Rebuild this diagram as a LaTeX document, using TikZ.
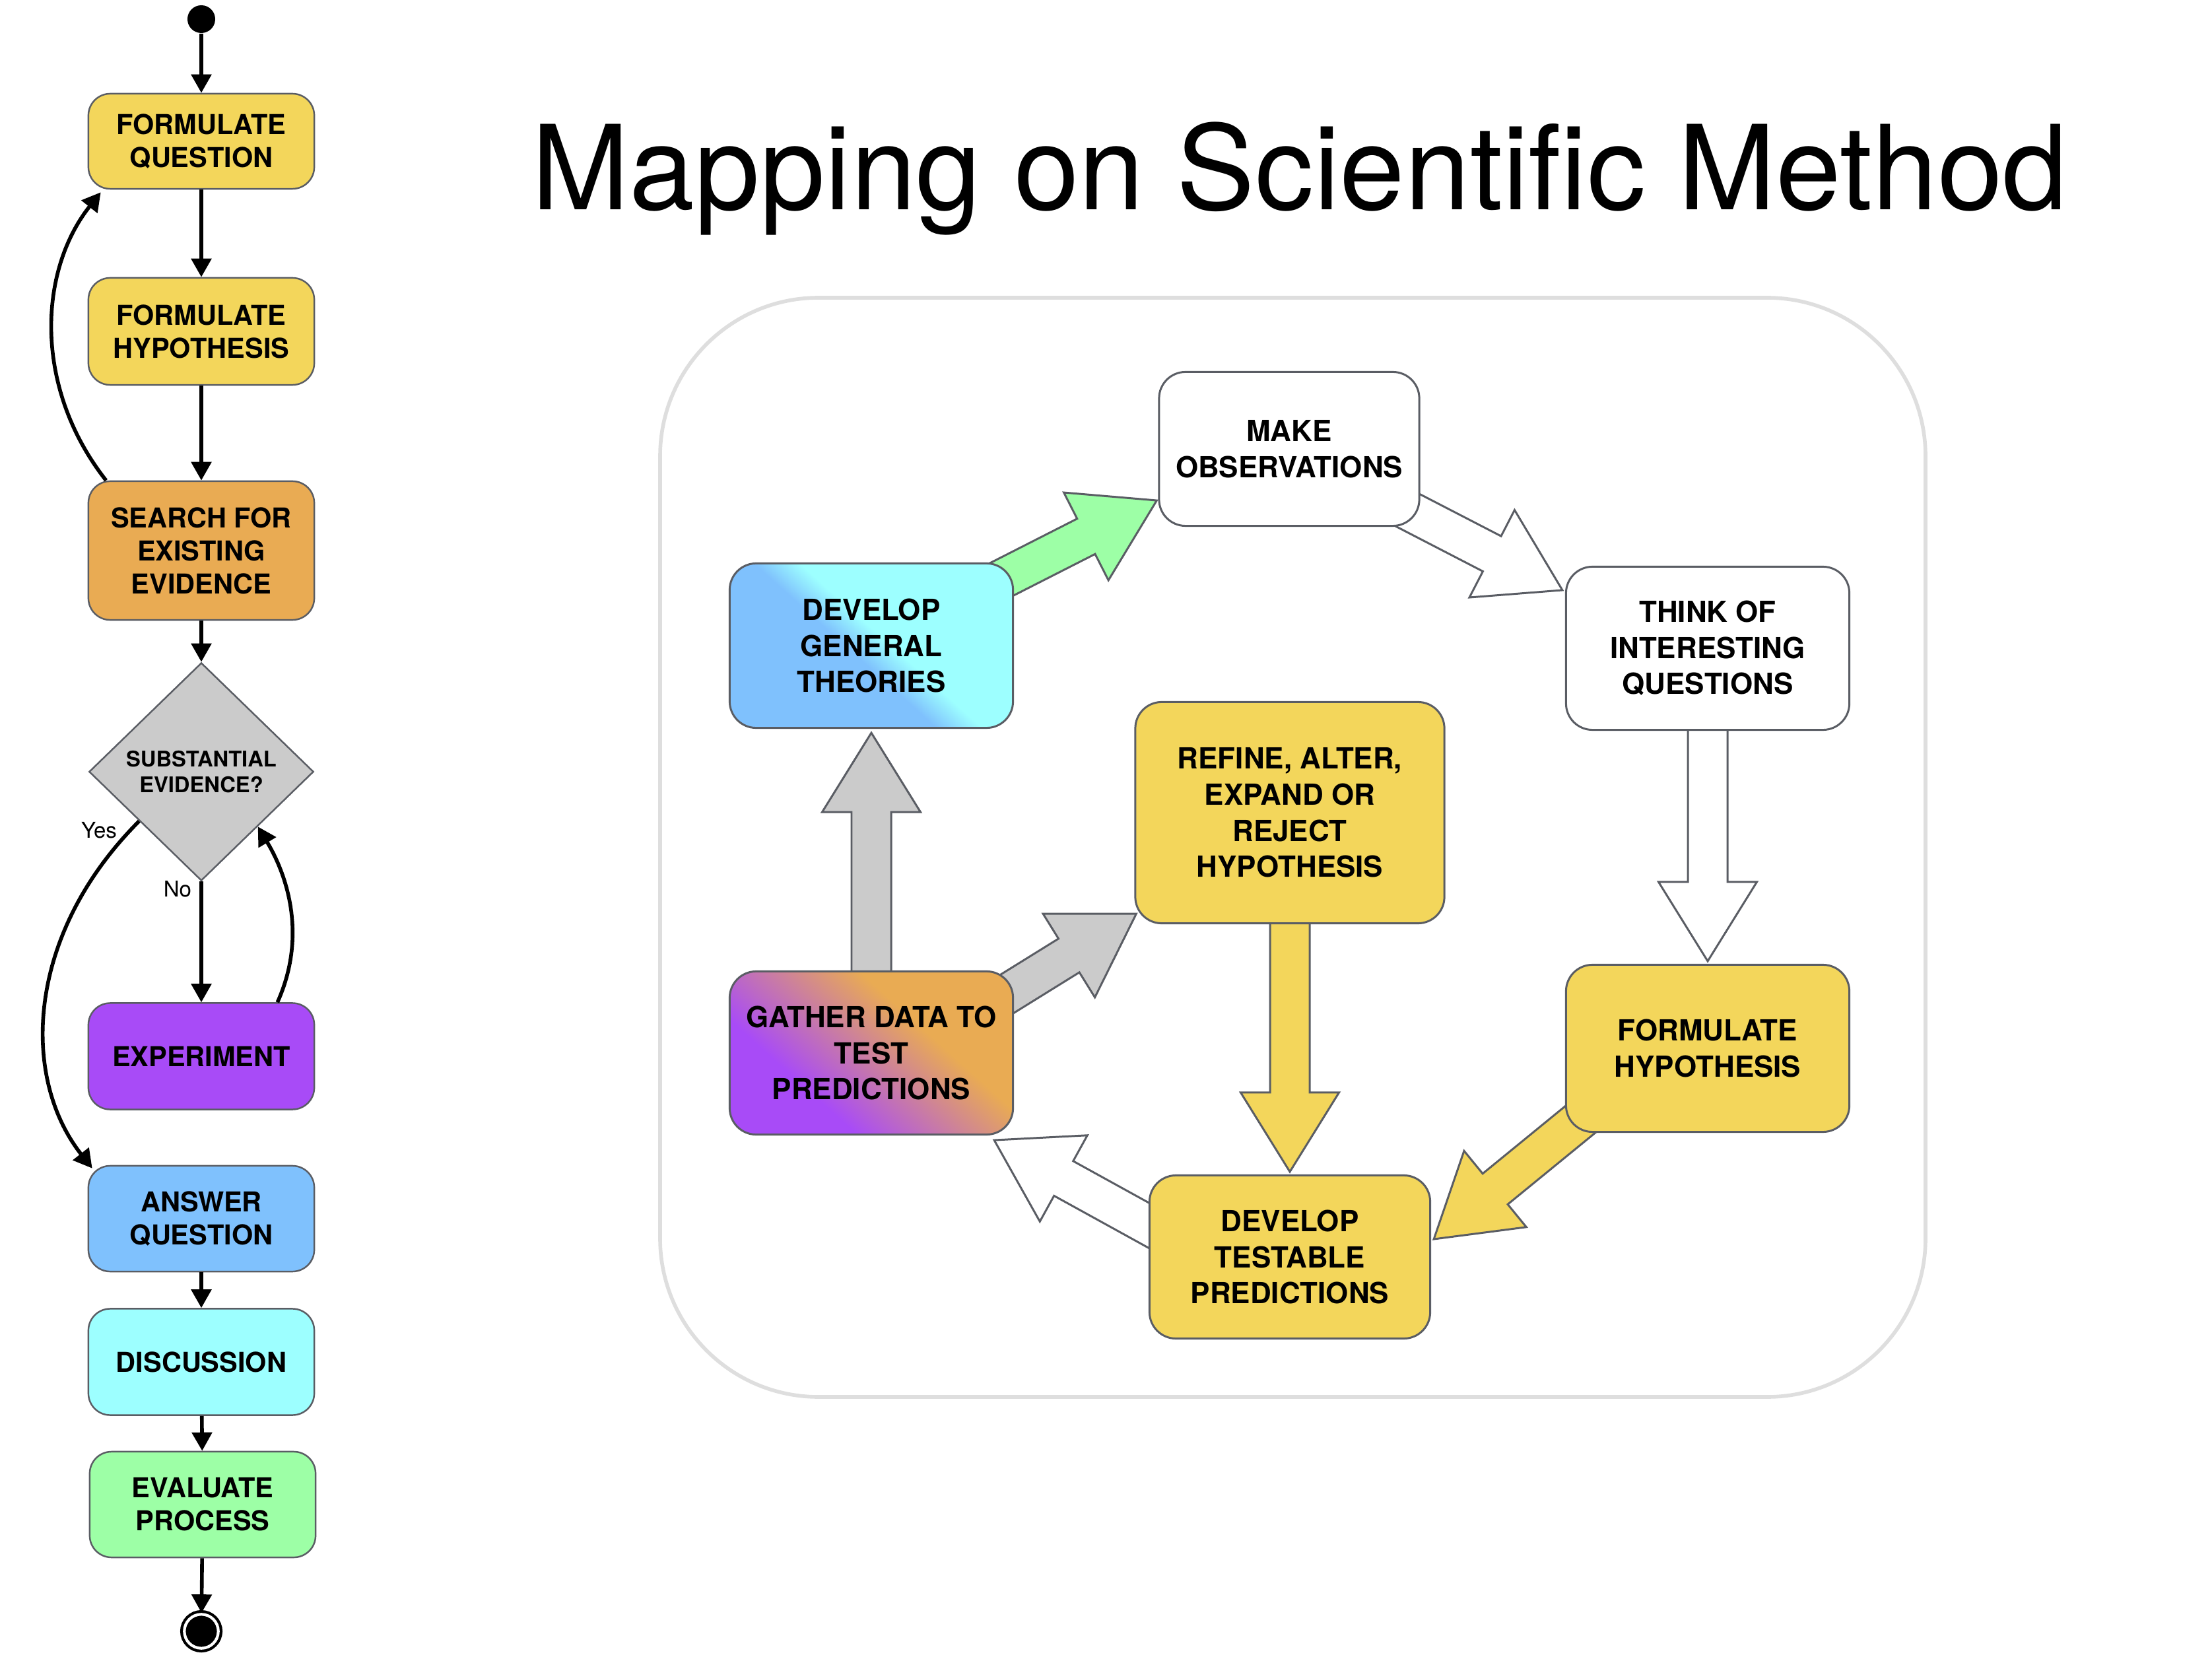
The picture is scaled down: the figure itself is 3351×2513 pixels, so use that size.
\documentclass[tikz,border=0pt]{standalone}
\usepackage{fontspec}
\setmainfont{TeX Gyre Heros}
\usetikzlibrary{arrows.meta,calc,shapes.geometric,backgrounds}
\definecolor{hypyellow}{HTML}{F3D65B}
\definecolor{searchorange}{HTML}{E9AB53}
\definecolor{exppurple}{HTML}{A84BF7}
\definecolor{answerblue}{HTML}{7FC1FD}
\definecolor{discaqua}{HTML}{9DFFFF}
\definecolor{evalgreen}{HTML}{9DFFA6}
\definecolor{decgray}{HTML}{CBCBCB}
\definecolor{edge}{HTML}{5A5D64}
\definecolor{framegray}{HTML}{DEDEDE}

\pgfdeclarehorizontalshading{theoryshade}{100bp}{color(0bp)=(answerblue); color(46bp)=(answerblue); color(53bp)=(discaqua); color(100bp)=(discaqua)}
\pgfdeclarehorizontalshading{gathershade}{100bp}{color(0bp)=(exppurple); color(34bp)=(exppurple); color(62bp)=(searchorange); color(100bp)=(searchorange)}

\tikzset{
  stepbox/.style={draw=edge, line width=0.7pt, rounded corners=0.33cm, minimum width=3.42cm,
    inner sep=2pt, align=center, font=\fontsize{11.8}{14.2}\selectfont\bfseries},
  cyclebox/.style={draw=edge, line width=0.85pt, rounded corners=0.4cm, minimum width=4.29cm,
    minimum height=2.47cm, inner sep=2pt, align=center, font=\fontsize{12.5}{15.5}\selectfont\bfseries},
  flow/.style={line width=1.6pt, -{Triangle[width=0.3cm,length=0.28cm]}},
  bigarrow/.style={draw=edge, line width=0.85pt, line join=miter},
  lbl/.style={font=\fontsize{9.4}{11}\selectfont}
}

% block arrow: style, name, from, to
\newcommand{\arrowhl}{1.2cm}
\newcommand{\arrowsw}{0.3cm}
\newcommand{\arrowhw}{0.745cm}
\newcommand{\cyclearrow}[4]{%
  \coordinate (#2-h) at ($(#4)!\arrowhl!(#3)$);
  \draw[bigarrow,#1] ($(#3)!\arrowsw!90:(#4)$) -- ($(#2-h)!\arrowsw!90:(#4)$)
    -- ($(#2-h)!\arrowhw!90:(#4)$) -- (#4) -- ($(#2-h)!\arrowhw!-90:(#4)$)
    -- ($(#2-h)!\arrowsw!-90:(#4)$) -- ($(#3)!\arrowsw!-90:(#4)$) -- cycle;}

\begin{document}
\begin{tikzpicture}[x=0.01cm,y=-0.01cm]
  \useasboundingbox (0,0) rectangle (3351,2513);

  % Left: flow chart
  \node[circle, fill=black, inner sep=0pt, minimum size=0.42cm] (start) at (305,29) {};
  \node[stepbox, fill=hypyellow, minimum height=1.44cm] (fq) at (305,214) {FORMULATE\\QUESTION};
  \node[stepbox, fill=hypyellow, minimum height=1.62cm] (fh) at (305,502) {FORMULATE\\HYPOTHESIS};
  \node[stepbox, fill=searchorange, minimum height=2.1cm] (search) at (305,834) {SEARCH FOR\\EXISTING\\EVIDENCE};
  \node[diamond, draw=edge, line width=0.7pt, fill=decgray, inner sep=0pt, minimum width=3.4cm,
    minimum height=3.3cm, align=center, font=\fontsize{9.3}{11.1}\selectfont\bfseries] (evid) at (305,1169) {SUBSTANTIAL\\EVIDENCE?};
  \node[stepbox, fill=exppurple, minimum height=1.61cm] (exper) at (305,1600) {EXPERIMENT};
  \node[stepbox, fill=answerblue, minimum height=1.6cm] (answer) at (305,1846) {ANSWER\\QUESTION};
  \node[stepbox, fill=discaqua, minimum height=1.61cm] (disc) at (305,2063) {DISCUSSION};
  \node[stepbox, fill=evalgreen, minimum height=1.6cm] (eval) at (307,2279) {EVALUATE\\PROCESS};
  \node[circle, fill=black, draw=black, double=white, double distance=1.2pt, line width=1.2pt,
    inner sep=0pt, minimum size=0.514cm] (finish) at (305,2471) {};

  \draw[flow] (start) -- (fq);
  \draw[flow] (fq) -- (fh);
  \draw[flow] (fh) -- (search);
  \draw[flow] (search) -- (evid);
  \draw[flow] (evid) -- (exper);
  \draw[flow] (answer) -- (disc);
  \draw[flow] (disc) -- (eval);
  \draw[flow] (eval) -- (finish);
  \draw[flow] ($(search.north west)+(28,0)$) .. controls +(-110,-140) and +(-95,120) .. ($(fq.south west)+(20,4)$);
  \draw[flow] ($(evid.west)!0.45!(evid.south)$) .. controls +(-170,170) and +(-110,-140) .. ($(answer.north west)+(7,5)$);
  \draw[flow] ($(exper.north east)+(-57,0)$) .. controls +(45,-100) and +(45,75) .. ($(evid.east)!0.5!(evid.south)$);
  \node[lbl] (yes) at (150,1258) {Yes};
  \node[lbl] (no) at (269,1347) {No};

  % Right: the cycle
  \node[font=\fontsize{50.5}{60}\selectfont, anchor=base] (title) at (1969,318) {Mapping on Scientific Method};
  \draw[framegray, line width=1.6pt, rounded corners=2.4cm] (1000,451) rectangle (2917,2116);

  \node[cyclebox, fill=white, minimum width=3.94cm, minimum height=2.33cm] (observ) at (1953,680) {MAKE\\OBSERVATIONS};
  \node[cyclebox, fill=white] (questions) at (2587,982) {THINK OF\\INTERESTING\\QUESTIONS};
  \node[cyclebox, fill=hypyellow, minimum height=2.53cm] (hyp2) at (2587,1588) {FORMULATE\\HYPOTHESIS};
  \node[cyclebox, fill=hypyellow, minimum width=4.25cm] (predict) at (1954,1904) {DEVELOP\\TESTABLE\\PREDICTIONS};
  \node[cyclebox, shade, shading=gathershade, shading angle=48] (gather) at (1320,1595) {GATHER DATA TO\\TEST\\PREDICTIONS};
  \node[cyclebox, shade, shading=theoryshade, shading angle=48, minimum height=2.49cm] (theories) at (1320,978) {DEVELOP\\GENERAL\\THEORIES};
  \node[cyclebox, fill=hypyellow, minimum width=4.68cm, minimum height=3.35cm] (refine) at (1954,1231) {REFINE, ALTER,\\EXPAND OR\\REJECT\\HYPOTHESIS};

  % Block arrows behind the boxes
  \begin{pgfonlayer}{background}
    \coordinate (a1t) at ($(observ.south west)+(-2,-40)$);
    \coordinate (a2t) at ($(questions.north west)+(-4,37)$);
    \coordinate (a3t) at ($(hyp2.north)+(0,-4)$);
    \coordinate (a4s) at ($(hyp2.center)+(0,-50)$);
    \coordinate (a4t) at ($(predict.east)+(4,-27)$);
    \coordinate (a5s) at ($(predict.center)+(0,70)$);
    \coordinate (a5t) at ($(gather.south east)+(-30,7)$);
    \coordinate (a6t) at ($(theories.south)+(0,6)$);
    \coordinate (a7s) at ($(gather.center)+(0,38)$);
    \coordinate (a7t) at ($(refine.south west)+(3,-16)$);
    \coordinate (a8t) at ($(predict.north)+(0,-4)$);
    \cyclearrow{fill=evalgreen}{a1}{theories.center}{a1t}
    \cyclearrow{fill=white}{a2}{observ.center}{a2t}
    \cyclearrow{fill=white}{a3}{questions.center}{a3t}
    \cyclearrow{fill=hypyellow}{a4}{a4s}{a4t}
    \cyclearrow{fill=white}{a5}{a5s}{a5t}
    \cyclearrow{fill=decgray}{a6}{gather.center}{a6t}
    \cyclearrow{fill=decgray}{a7}{a7s}{a7t}
    \cyclearrow{fill=hypyellow}{a8}{refine.center}{a8t}
  \end{pgfonlayer}
\end{tikzpicture}
\end{document}
